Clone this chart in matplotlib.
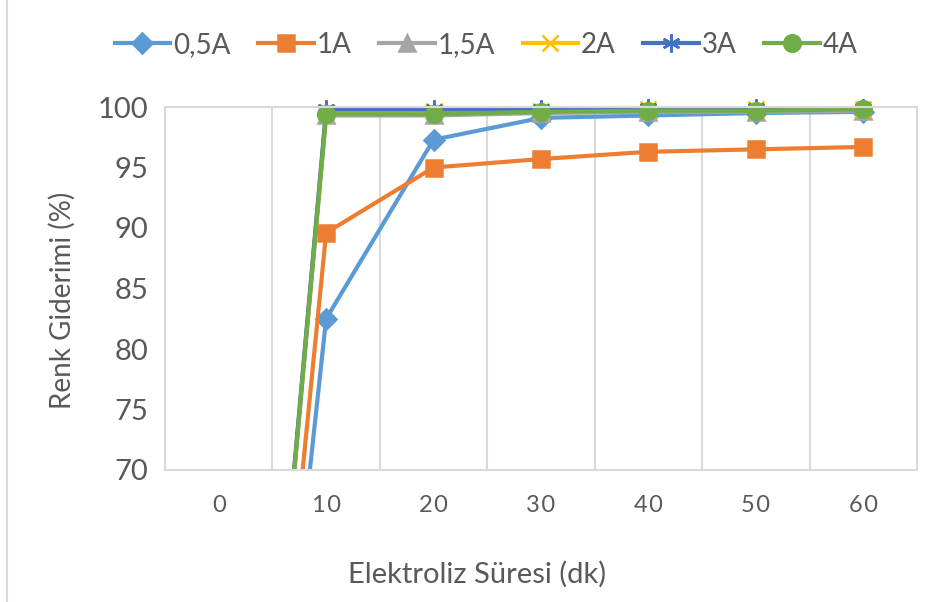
import matplotlib.pyplot as plt
from matplotlib.patches import Rectangle
from matplotlib.lines import Line2D

# data
sure = ["0", "10", "20", "30", "40", "50", "60"]
a05 = [0, 82.5, 97.3, 99.1, 99.3, 99.5, 99.6]
a1 = [0, 89.6, 95.0, 95.7, 96.3, 96.5, 96.7]
a15 = [0, 99.3, 99.3, 99.5, 99.6, 99.6, 99.7]
a2 = [0, 99.6, 99.7, 99.7, 99.8, 99.8, 99.8]
a3 = [0, 99.8, 99.8, 99.8, 99.9, 99.9, 99.9]
a4 = [0, 99.4, 99.4, 99.6, 99.7, 99.7, 99.8]
labels = ["0,5A", "1A", "1,5A", "2A", "3A", "4A"]

plt.rcParams["font.family"] = ["Lato", "DejaVu Sans"]
text_color = "#595959"

fig = plt.figure(figsize=(9.36, 6.02), dpi=100)
ax = fig.add_axes([165 / 936, 1 - 470 / 602, (917 - 165) / 936, (470 - 107) / 602])

series = [
    (a05, "#5B9BD5", "D", 10),
    (a1, "#ED7D31", "s", 12),
    (a15, "#A5A5A5", "^", 11),
    (a2, "#FFC000", "x", 11),
    (a3, "#4472C4", (6, 2, 0), 13),
    (a4, "#70AD47", "o", 12),
]

xs = range(len(sure))
clip = Rectangle((0, 0), 1, 1.1, transform=ax.transAxes)
for (vals, color, marker, ms), lab in zip(series, labels):
    line, = ax.plot(xs, vals, color=color, lw=3, marker=marker, markersize=ms,
                    markeredgewidth=1.8, label=lab)
    line.set_clip_path(clip)

ax.set_xlim(-0.5, 6.5)
ax.set_ylim(70, 100)
ax.set_yticks(range(70, 101, 5))
ax.set_xticks(list(xs))
# spaced digits like the original axis
ax.set_xticklabels(["\u200a".join(s) for s in sure])
ax.set_xticks([i + 0.5 for i in range(6)], minor=True)
ax.grid(which="minor", axis="x", color="#D9D9D9", lw=1.5)
ax.tick_params(which="both", length=0)
ax.tick_params(axis="y", labelsize=21, colors=text_color, pad=12)
ax.tick_params(axis="x", labelsize=17, colors=text_color, pad=18)
for s in ax.spines.values():
    s.set_color("#D9D9D9")
    s.set_linewidth(1.5)

fig.text(477 / 936, 1 - 574 / 602, "Elektroliz Süresi (dk)", ha="center", va="center",
         fontsize=21, color=text_color)
fig.text(62 / 936, 1 - 300 / 602, "Renk Giderimi (%)", ha="center", va="center",
         rotation=90, fontsize=20, color=text_color)

fig.legend(loc="center", bbox_to_anchor=(486 / 936, 1 - 45 / 602), ncol=6, frameon=False,
           fontsize=20, labelcolor=text_color, handlelength=2.0, handletextpad=0.1,
           columnspacing=1.0)

# outer chart border (left edge visible)
fig.add_artist(Line2D([7 / 936, 7 / 936], [0, 1], color="#D9D9D9", lw=1.5))

fig.savefig("out.png", dpi=100)
